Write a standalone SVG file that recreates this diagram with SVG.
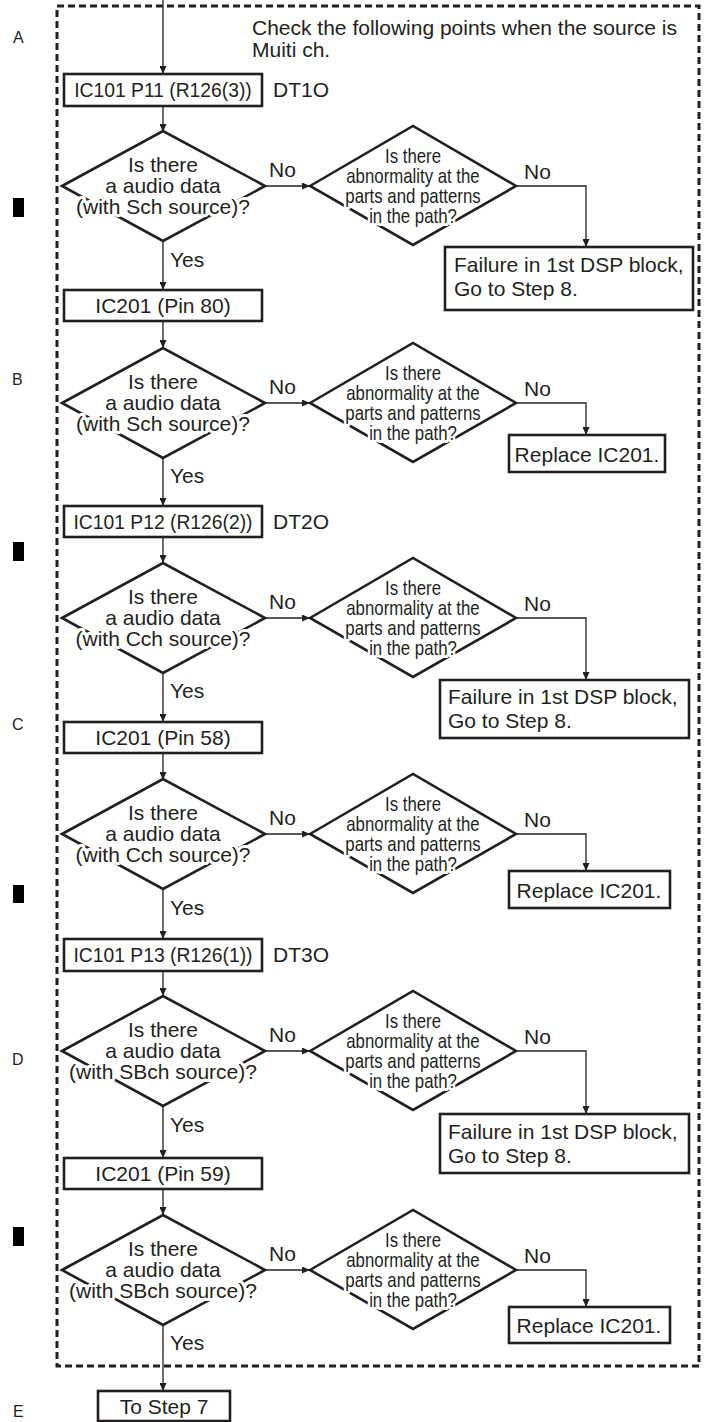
<svg xmlns="http://www.w3.org/2000/svg" width="706" height="1422" viewBox="0 0 706 1422">
<defs>
<style>
.box{fill:#fff;stroke:#231f20;stroke-width:2.6}
.dia{fill:#fff;stroke:#231f20;stroke-width:2.6;stroke-linejoin:miter}
.conn{fill:none;stroke:#231f20;stroke-width:1.3}
.frame{fill:none;stroke:#231f20;stroke-width:3;stroke-dasharray:7 4}
text{font-family:"Liberation Sans",Arial,Helvetica,sans-serif;fill:#231f20}
.t{font-size:21px}
.s{font-size:19.3px}
.m{font-size:16px}
.c{text-anchor:middle}
.halo{stroke:#fff;stroke-width:6;paint-order:stroke;stroke-linejoin:round}
.n{font-size:20px;text-anchor:middle}
</style>
<marker id="arr" markerUnits="userSpaceOnUse" markerWidth="9" markerHeight="7" refX="8" refY="3.5" orient="auto">
<path d="M0,0 L8,3.5 L0,7 z" fill="#231f20"/>
</marker>
</defs>
<rect width="706" height="1422" fill="#fff"/>

<g id="margin">
<text class="m" x="13" y="43">A</text>
<rect x="13" y="198" width="11" height="19" fill="#000"/>
<text class="m" x="12" y="385">B</text>
<rect x="13" y="542" width="11" height="19" fill="#000"/>
<text class="m" x="12" y="730">C</text>
<rect x="13" y="885" width="11" height="18" fill="#000"/>
<text class="m" x="12" y="1065">D</text>
<rect x="13" y="1227" width="11" height="19" fill="#000"/>
<text class="m" x="13" y="1417">E</text>
</g>

<rect id="frame" class="frame" x="57" y="6" width="642" height="1360"/>

<g id="note">
<text class="t" x="252" y="35">Check the following points when the source is</text>
<text class="t" x="252" y="57">Muiti ch.</text>
</g>

<g id="connectors" class="conn" marker-end="url(#arr)">
<path d="M163,0 V74"/>
<path d="M163,106 V132"/>
<path d="M265,186 H310"/>
<path d="M516,186 H586 V247"/>
<path d="M163,241 V290"/>
<path d="M163,321 V348"/>
<path d="M265,403 H310"/>
<path d="M516,403 H586 V435"/>
<path d="M163,458 V506"/>
<path d="M163,537 V563"/>
<path d="M265,618 H310"/>
<path d="M516,618 H586 V680"/>
<path d="M163,673 V722"/>
<path d="M163,753 V780"/>
<path d="M265,834 H310"/>
<path d="M516,834 H586 V871"/>
<path d="M163,889 V939"/>
<path d="M163,971 V996"/>
<path d="M265,1051 H310"/>
<path d="M516,1051 H586 V1114"/>
<path d="M163,1106 V1158"/>
<path d="M163,1189 V1215"/>
<path d="M265,1270 H310"/>
<path d="M516,1270 H586 V1307"/>
<path d="M163,1325 V1391"/>
</g>

<g id="labels" class="t">
<text x="269" y="177">No</text><text x="524" y="179">No</text><text x="170" y="267">Yes</text>
<text x="269" y="394">No</text><text x="524" y="396">No</text><text x="170" y="483">Yes</text>
<text x="269" y="609">No</text><text x="524" y="611">No</text><text x="170" y="698">Yes</text>
<text x="269" y="825">No</text><text x="524" y="827">No</text><text x="170" y="915">Yes</text>
<text x="269" y="1042">No</text><text x="524" y="1044">No</text><text x="170" y="1132">Yes</text>
<text x="269" y="1261">No</text><text x="524" y="1263">No</text><text x="170" y="1350">Yes</text>
</g>

<!-- Section A -->
<g id="box-ic101-p11">
<rect class="box" x="64" y="74" width="198" height="32"/>
<text class="s c" x="163" y="97">IC101 P11 (R126(3))</text>
<text class="t" x="273" y="97">DT1O</text>
</g>
<g id="dec-a1">
<polygon class="dia" points="62,186 163,131 265,186 163,241"/>
<text class="t c halo" x="163" y="172">Is there</text>
<text class="t c halo" x="163" y="193">a audio data</text>
<text class="t c halo" x="163" y="214">(with Sch source)?</text>
</g>
<g id="dec-a2">
<polygon class="dia" points="310,186 413,126 516,186 413,245"/>
<g transform="translate(413,0) scale(0.84,1)">
<text class="n halo" x="0" y="163">Is there</text>
<text class="n halo" x="0" y="183">abnormality at the</text>
<text class="n halo" x="0" y="203">parts and patterns</text>
<text class="n halo" x="0" y="223">in the path?</text>
</g>
</g>
<g id="fail-a">
<rect class="box" x="445" y="247" width="248" height="63"/>
<text class="t" x="454" y="272">Failure in 1st DSP block,</text>
<text class="t" x="454" y="296">Go to Step 8.</text>
</g>

<!-- Section B -->
<g id="box-ic201-80">
<rect class="box" x="64" y="290" width="198" height="31"/>
<text class="t c" x="163" y="313">IC201 (Pin 80)</text>
</g>
<g id="dec-b1">
<polygon class="dia" points="62,403 163,348 265,403 163,458"/>
<text class="t c halo" x="163" y="389">Is there</text>
<text class="t c halo" x="163" y="410">a audio data</text>
<text class="t c halo" x="163" y="431">(with Sch source)?</text>
</g>
<g id="dec-b2">
<polygon class="dia" points="310,403 413,343 516,403 413,462"/>
<g transform="translate(413,0) scale(0.84,1)">
<text class="n halo" x="0" y="380">Is there</text>
<text class="n halo" x="0" y="400">abnormality at the</text>
<text class="n halo" x="0" y="420">parts and patterns</text>
<text class="n halo" x="0" y="440">in the path?</text>
</g>
</g>
<g id="replace-b">
<rect class="box" x="509" y="435" width="156" height="37"/>
<text class="t c" x="587" y="462">Replace IC201.</text>
</g>

<!-- Section C -->
<g id="box-ic101-p12">
<rect class="box" x="64" y="506" width="198" height="31"/>
<text class="s c" x="163" y="529">IC101 P12 (R126(2))</text>
<text class="t" x="273" y="529">DT2O</text>
</g>
<g id="dec-c1">
<polygon class="dia" points="62,618 163,563 265,618 163,673"/>
<text class="t c halo" x="163" y="604">Is there</text>
<text class="t c halo" x="163" y="625">a audio data</text>
<text class="t c halo" x="163" y="646">(with Cch source)?</text>
</g>
<g id="dec-c2">
<polygon class="dia" points="310,618 413,558 516,618 413,677"/>
<g transform="translate(413,0) scale(0.84,1)">
<text class="n halo" x="0" y="595">Is there</text>
<text class="n halo" x="0" y="615">abnormality at the</text>
<text class="n halo" x="0" y="635">parts and patterns</text>
<text class="n halo" x="0" y="655">in the path?</text>
</g>
</g>
<g id="fail-c">
<rect class="box" x="440" y="680" width="249" height="58"/>
<text class="t" x="448" y="704">Failure in 1st DSP block,</text>
<text class="t" x="448" y="728">Go to Step 8.</text>
</g>

<!-- Section D -->
<g id="box-ic201-58">
<rect class="box" x="64" y="722" width="198" height="31"/>
<text class="t c" x="163" y="745">IC201 (Pin 58)</text>
</g>
<g id="dec-d1">
<polygon class="dia" points="62,834 163,779 265,834 163,889"/>
<text class="t c halo" x="163" y="820">Is there</text>
<text class="t c halo" x="163" y="841">a audio data</text>
<text class="t c halo" x="163" y="862">(with Cch source)?</text>
</g>
<g id="dec-d2">
<polygon class="dia" points="310,834 413,774 516,834 413,893"/>
<g transform="translate(413,0) scale(0.84,1)">
<text class="n halo" x="0" y="811">Is there</text>
<text class="n halo" x="0" y="831">abnormality at the</text>
<text class="n halo" x="0" y="851">parts and patterns</text>
<text class="n halo" x="0" y="871">in the path?</text>
</g>
</g>
<g id="replace-d">
<rect class="box" x="509" y="871" width="161" height="37"/>
<text class="t c" x="589" y="898">Replace IC201.</text>
</g>

<!-- Section E -->
<g id="box-ic101-p13">
<rect class="box" x="64" y="939" width="198" height="32"/>
<text class="s c" x="163" y="962">IC101 P13 (R126(1))</text>
<text class="t" x="273" y="962">DT3O</text>
</g>
<g id="dec-e1">
<polygon class="dia" points="62,1051 163,996 265,1051 163,1106"/>
<text class="t c halo" x="163" y="1037">Is there</text>
<text class="t c halo" x="163" y="1058">a audio data</text>
<text class="t c halo" x="163" y="1079">(with SBch source)?</text>
</g>
<g id="dec-e2">
<polygon class="dia" points="310,1051 413,991 516,1051 413,1110"/>
<g transform="translate(413,0) scale(0.84,1)">
<text class="n halo" x="0" y="1028">Is there</text>
<text class="n halo" x="0" y="1048">abnormality at the</text>
<text class="n halo" x="0" y="1068">parts and patterns</text>
<text class="n halo" x="0" y="1088">in the path?</text>
</g>
</g>
<g id="fail-e">
<rect class="box" x="440" y="1114" width="249" height="59"/>
<text class="t" x="448" y="1139">Failure in 1st DSP block,</text>
<text class="t" x="448" y="1163">Go to Step 8.</text>
</g>

<!-- Section F -->
<g id="box-ic201-59">
<rect class="box" x="64" y="1158" width="198" height="31"/>
<text class="t c" x="163" y="1181">IC201 (Pin 59)</text>
</g>
<g id="dec-f1">
<polygon class="dia" points="62,1270 163,1215 265,1270 163,1325"/>
<text class="t c halo" x="163" y="1256">Is there</text>
<text class="t c halo" x="163" y="1277">a audio data</text>
<text class="t c halo" x="163" y="1298">(with SBch source)?</text>
</g>
<g id="dec-f2">
<polygon class="dia" points="310,1270 413,1210 516,1270 413,1329"/>
<g transform="translate(413,0) scale(0.84,1)">
<text class="n halo" x="0" y="1247">Is there</text>
<text class="n halo" x="0" y="1267">abnormality at the</text>
<text class="n halo" x="0" y="1287">parts and patterns</text>
<text class="n halo" x="0" y="1307">in the path?</text>
</g>
</g>
<g id="replace-f">
<rect class="box" x="509" y="1307" width="161" height="36"/>
<text class="t c" x="589" y="1333">Replace IC201.</text>
</g>

<g id="to-step-7">
<rect class="box" x="98" y="1391" width="132" height="30"/>
<text class="t c" x="164" y="1414">To Step 7</text>
</g>
</svg>
